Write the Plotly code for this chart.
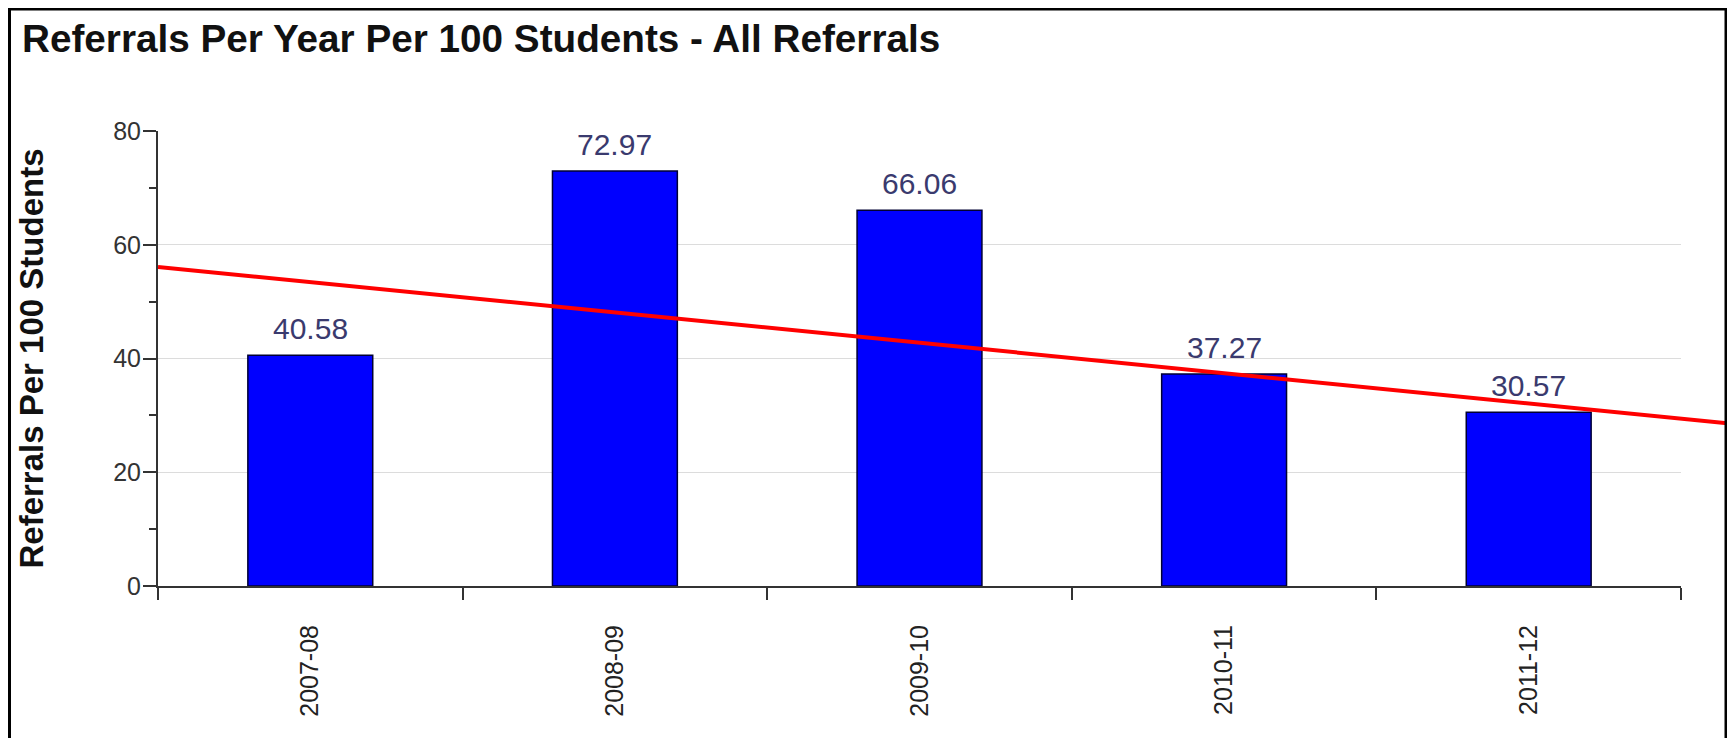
import plotly.graph_objects as go

# ---------------- data ----------------
categories = ["2007-08", "2008-09", "2009-10", "2010-11", "2011-12"]
referrals = [40.58, 72.97, 66.06, 37.27, 30.57]
value_labels = ["40.58", "72.97", "66.06", "37.27", "30.57"]
y_ticks = [0, 20, 40, 60, 80]
y_tick_labels = ["0", "20", "40", "60", "80"]
# red trend line drawn over the chart: (category position, value) end points
trend_x = [-0.5, 4.654]
trend_y = [56.1, 28.6]

# ---------------- layout geometry ----------------
# (the page body adds an 8px offset, so figure coords = page coords - 8)
W, H = 1735, 738
ML, MR, MT, MB = 150, 15, 123, 160
plot_w = W - ML - MR
plot_h = H - MT - MB
main_w = 1523                      # width of the bar plot area in px
dom_end = main_w / plot_w
n = len(categories)
x2_range = [-0.5, -0.5 + n / dom_end]

FONT = "Arial, Liberation Sans, Helvetica, sans-serif"
AXC = "#333333"

fig = go.Figure()

fig.add_trace(go.Bar(
    x=categories, y=referrals,
    marker=dict(color="#0000ff", line=dict(color="#000033", width=1.5)),
    width=0.41,
    xaxis="x", yaxis="y", showlegend=False,
))

fig.add_trace(go.Scatter(
    x=trend_x, y=trend_y, mode="lines",
    line=dict(color="#ff0000", width=4),
    xaxis="x2", yaxis="y2", showlegend=False,
))

annotations = [
    dict(x=c, y=v, xref="x", yref="y", text=t, showarrow=False,
         xanchor="center", yanchor="bottom", yshift=8,
         font=dict(family=FONT, size=30, color="#3a3a6e"))
    for c, v, t in zip(categories, referrals, value_labels)
]

fig.update_layout(
    width=W, height=H,
    margin=dict(l=ML, r=MR, t=MT, b=MB, pad=0),
    paper_bgcolor="white",
    plot_bgcolor="rgba(0,0,0,0)",
    font=dict(family=FONT, color="#222222"),
    title=dict(
        text="Referrals Per Year Per 100 Students - All Referrals",
        font=dict(family=FONT, size=38.7, color="#111111", weight="bold"),
        x=14 / W, xanchor="left", xref="container",
        y=1 - 17 / H, yanchor="top", yref="container",
    ),
    xaxis=dict(
        type="category", domain=[0, dom_end], anchor="y",
        range=[-0.5, n - 0.5],
        showline=True, linecolor=AXC, linewidth=2,
        ticks="outside", tickson="boundaries", ticklen=12, tickwidth=2, tickcolor=AXC,
        tickangle=-90, tickfont=dict(family=FONT, size=25, color="#222222"),
        ticklabelstandoff=27,
        showgrid=False, zeroline=False, fixedrange=True,
    ),
    yaxis=dict(
        domain=[0, 1], anchor="x", range=[0, 80],
        tickmode="array", tickvals=y_ticks, ticktext=y_tick_labels,
        showline=True, linecolor=AXC, linewidth=2,
        ticks="outside", ticklen=13, tickwidth=2, tickcolor=AXC,
        tickfont=dict(family=FONT, size=25, color="#333333"),
        ticklabelstandoff=-3,
        minor=dict(tickmode="linear", tick0=0, dtick=10, ticks="outside",
                   ticklen=7, tickwidth=2, tickcolor=AXC, showgrid=False),
        showgrid=True, gridcolor="#dcdcdc", gridwidth=1,
        zeroline=False, fixedrange=True,
        title=dict(text="Referrals Per 100 Students",
                   font=dict(family=FONT, size=33, color="#111111", weight="bold"),
                   standoff=60),
    ),
    xaxis2=dict(domain=[0, 1], anchor="y2", range=x2_range, visible=False,
                fixedrange=True),
    yaxis2=dict(domain=[0, 1], anchor="x2", range=[0, 80], visible=False,
                fixedrange=True),
    annotations=annotations,
    shapes=[dict(
        type="rect", xref="paper", yref="paper",
        x0=(1.5 - ML) / plot_w, x1=(1718 - ML) / plot_w,
        y0=-0.5, y1=(H - MB - 1) / plot_h,
        line=dict(color="black", width=3), fillcolor="rgba(0,0,0,0)",
        layer="above",
    )],
)

fig.write_html("out.html")
